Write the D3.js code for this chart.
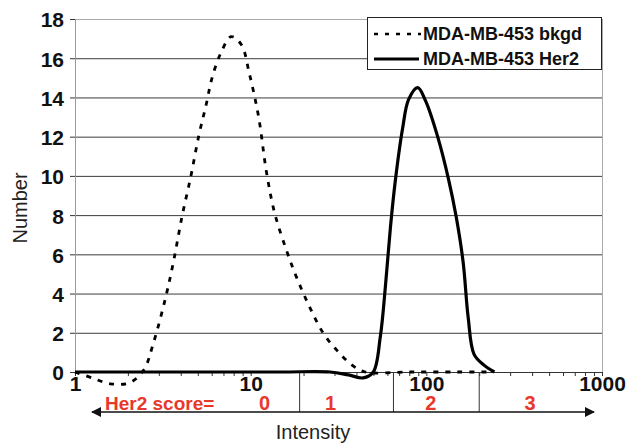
<!DOCTYPE html>
<html>
<head>
<meta charset="utf-8">
<script src="https://cdn.jsdelivr.net/npm/d3@7"></script>
<style>
  body { margin: 0; background: #fff; }
  svg { font-family: "Liberation Sans", Arial, sans-serif; }
</style>
</head>
<body>
<div id="chart"></div>
<script>
var width = 628;
var height = 446;
var plotLeft = 75, plotRight = 602, plotTop = 19, plotBottom = 372;
var red = '#e8382b';

// bkgd curve (dotted)
var bkgdIntensity = [1, 1.25, 1.59, 2.04, 2.46, 2.8, 3.28, 3.65, 4.06, 4.57, 5.08, 5.57, 6.03, 6.79, 7.75, 8.84, 9.84, 11.1, 12.3, 13.7, 16.0, 18.3, 21.7, 25.8, 31.0, 37.8, 44.9, 80, 150, 234];
var bkgdNumber    = [0, -0.3, -0.6, -0.55, 0.1, 1.5, 3.8, 5.7, 7.9, 10.0, 12.1, 13.6, 15.0, 16.3, 17.1, 16.7, 15.2, 13.0, 10.2, 8.1, 6.2, 4.8, 3.3, 2.0, 1.1, 0.35, 0, 0, 0, 0];

// Her2 curve (solid)
var her2Intensity = [1, 5, 15, 28.3, 36, 43.7, 49.9, 54.7, 58.4, 62.5, 66.7, 73.2, 79.3, 89.3, 99.3, 116, 134, 148, 162, 173, 187, 213, 244];
var her2Number    = [0, 0, 0, 0, -0.15, -0.3, 0, 1.8, 4.3, 7.4, 9.8, 12.4, 13.9, 14.5, 13.8, 12.0, 9.8, 7.9, 5.6, 2.8, 0.9, 0.35, 0];

var yTicks = [0, 2, 4, 6, 8, 10, 12, 14, 16, 18];
var xTicks = [1, 10, 100, 1000];
var scoreCuts = [19, 65, 200];
var scoreLabels = ['0', '1', '2', '3'];
var scoreLabelAt = [12, 28.5, 106, 390];
var seriesNames = ['MDA-MB-453 bkgd', 'MDA-MB-453 Her2'];

var svg = d3.select('#chart').append('svg')
      .attr('width', width)
      .attr('height', height);

var x = d3.scaleLog().domain([1, 1000]).range([plotLeft, plotRight]);
var y = d3.scaleLinear().domain([0, 18]).range([plotBottom, plotTop]);

// gridlines
svg.append('g').selectAll('line')
      .data(yTicks.filter(d => d > 0 && d < 18))
      .enter().append('line')
      .attr('x1', plotLeft).attr('x2', plotRight)
      .attr('y1', d => y(d) + 0.5).attr('y2', d => y(d) + 0.5)
      .attr('stroke', '#3c3c3c').attr('stroke-width', 1);

// frame
svg.append('line').attr('x1', plotLeft).attr('x2', plotRight).attr('y1', y(18) + 0.5).attr('y2', y(18) + 0.5)
      .attr('stroke', '#aaa');
svg.append('line').attr('x1', plotRight + 0.5).attr('x2', plotRight + 0.5).attr('y1', y(18)).attr('y2', y(0))
      .attr('stroke', '#aaa');

// y axis
var yAxis = d3.axisLeft(y).tickValues(yTicks).tickSize(5).tickPadding(6);
var yAxisGroup = svg.append('g')
      .attr('transform', 'translate(' + plotLeft + ',0)')
      .call(yAxis);
yAxisGroup.select('.domain').attr('stroke', '#999');
yAxisGroup.selectAll('.tick line').attr('stroke', '#333');
yAxisGroup.selectAll('.tick text')
      .attr('font-size', 21).attr('font-weight', 'bold').attr('fill', '#111')
      .attr('font-family', '"Liberation Sans", Arial, sans-serif')
      .attr('dy', '0.38em');

// x axis: minor ticks every log step, labels at decades
var minor = [];
for (var p = 1; p < 1000; p *= 10) {
      for (var k = 2; k <= 9; k++) minor.push(p * k);
}
var xAxis = d3.axisBottom(x).tickValues(xTicks.concat(minor)).tickSize(4).tickPadding(1)
      .tickFormat(d => xTicks.indexOf(d) >= 0 ? d : '');
var xAxisGroup = svg.append('g')
      .attr('transform', 'translate(0,' + plotBottom + ')')
      .call(xAxis);
xAxisGroup.select('.domain').attr('stroke', '#333');
xAxisGroup.selectAll('.tick line').attr('stroke', '#333');
xAxisGroup.selectAll('.tick text')
      .attr('font-size', 21).attr('font-weight', 'bold').attr('fill', '#111')
      .attr('font-family', '"Liberation Sans", Arial, sans-serif')
      .attr('dy', '0.66em');

// score separators
svg.append('g').selectAll('line')
      .data(scoreCuts)
      .enter().append('line')
      .attr('x1', d => x(d)).attr('x2', d => x(d))
      .attr('y1', plotBottom).attr('y2', 412)
      .attr('stroke', '#333').attr('stroke-width', 1);

// curves
var line = d3.line()
      .x(d => x(d[0]))
      .y(d => y(d[1]))
      .curve(d3.curveCatmullRom);

svg.append('path')
      .datum(d3.zip(bkgdIntensity, bkgdNumber))
      .attr('d', line)
      .attr('fill', 'none')
      .attr('stroke', '#000')
      .attr('stroke-width', 2.8)
      .attr('stroke-dasharray', '5,7');

svg.append('path')
      .datum(d3.zip(her2Intensity, her2Number))
      .attr('d', line)
      .attr('fill', 'none')
      .attr('stroke', '#000')
      .attr('stroke-width', 3.2)
      .attr('stroke-linejoin', 'round');

// legend
var legend = svg.append('g');
legend.append('rect')
      .attr('x', 367.5).attr('y', 17.5).attr('width', 234).attr('height', 52)
      .attr('fill', '#fff').attr('stroke', '#222').attr('stroke-width', 1);
legend.append('line')
      .attr('x1', 374).attr('x2', 421).attr('y1', 34).attr('y2', 34)
      .attr('stroke', '#000').attr('stroke-width', 2.6).attr('stroke-dasharray', '4,7');
legend.append('line')
      .attr('x1', 374).attr('x2', 419).attr('y1', 59).attr('y2', 59)
      .attr('stroke', '#000').attr('stroke-width', 3.2);
legend.selectAll('text')
      .data(seriesNames)
      .enter().append('text')
      .attr('x', 423)
      .attr('y', (d, i) => 34 + i * 25)
      .attr('dy', '0.36em')
      .attr('font-size', 18).attr('font-weight', 'bold').attr('fill', '#111')
      .text(d => d);

// arrow underneath
var defs = svg.append('defs');
defs.append('marker').attr('id', 'head')
      .attr('viewBox', '0 0 10 10').attr('refX', 9).attr('refY', 5)
      .attr('markerWidth', 12).attr('markerHeight', 10)
      .attr('markerUnits', 'userSpaceOnUse')
      .attr('orient', 'auto-start-reverse')
      .append('path').attr('d', 'M0,0 L10,5 L0,10 Z').attr('fill', '#111');
svg.append('line')
      .attr('x1', 92).attr('x2', 594).attr('y1', 412).attr('y2', 412)
      .attr('stroke', '#111').attr('stroke-width', 1.6)
      .attr('marker-start', 'url(#head)').attr('marker-end', 'url(#head)');

svg.append('text')
      .attr('x', 105).attr('y', 410)
      .attr('font-size', 19).attr('font-weight', 'bold').attr('fill', red)
      .text('Her2 score=');
svg.append('g').selectAll('text')
      .data(scoreLabels)
      .enter().append('text')
      .attr('x', (d, i) => x(scoreLabelAt[i]))
      .attr('y', 410)
      .attr('text-anchor', 'middle')
      .attr('font-size', 20).attr('font-weight', 'bold').attr('fill', red)
      .text(d => d);

// axis titles
svg.append('text')
      .attr('x', 313).attr('y', 439)
      .attr('text-anchor', 'middle')
      .attr('font-size', 20).attr('fill', '#222')
      .text('Intensity');
svg.append('text')
      .attr('transform', 'rotate(-90)')
      .attr('x', -208).attr('y', 27)
      .attr('text-anchor', 'middle')
      .attr('font-size', 20).attr('fill', '#222')
      .text('Number');
</script>
</body>
</html>
